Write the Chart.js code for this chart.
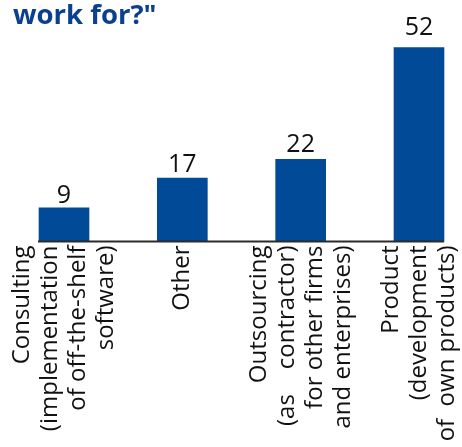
<!DOCTYPE html>
<html>
<head>
<meta charset="utf-8">
<script src="https://cdn.jsdelivr.net/npm/chart.js@4/dist/chart.umd.min.js"></script>
<style>
  html, body { margin: 0; padding: 0; background: #ffffff; }
  #wrap { width: 462px; height: 447px; position: relative; }
</style>
</head>
<body>
<div id="wrap"><canvas id="chart"></canvas></div>
<script>
// Company types (multi-line category labels) and share of answers
const categories = [
  ['Consulting', '(implementation', 'of off-the-shelf', 'software)'],
  ['Other'],
  ['Outsourcing', '(as    contractor)', 'for other firms', 'and enterprises)'],
  ['Product', '(development', 'of  own products)']
];
const responses = [9, 17, 22, 52];
const titleText = 'work for?"';

const BAR_BLUE = '#004a97';
const TEXT_FONT = '"Open Sans", "Noto Sans", sans-serif';

// Axis baseline, value labels and rotated category labels
const annotate = {
  id: 'annotate',
  afterDatasetsDraw(chart) {
    const ctx = chart.ctx;
    const x = chart.scales.x;
    const y = chart.scales.y;
    const bars = chart.getDatasetMeta(0).data;
    const base = y.getPixelForValue(0);

    // baseline spanning the bars
    const first = bars[0], last = bars[bars.length - 1];
    ctx.save();
    ctx.strokeStyle = '#2b2b2b';
    ctx.lineWidth = 2;
    ctx.beginPath();
    ctx.moveTo(first.x - first.width / 2 - 1, base);
    ctx.lineTo(last.x + last.width / 2, base);
    ctx.stroke();

    // values above bars, anchored a little above each bar top
    ctx.fillStyle = '#111111';
    ctx.font = '25px ' + TEXT_FONT;
    ctx.textAlign = 'center';
    ctx.textBaseline = 'alphabetic';
    bars.forEach((bar, i) => {
      const v = responses[i];
      ctx.fillText(String(v), bar.x, y.getPixelForValue(v * 1.05) - 3);
    });

    // category labels, rotated, lines ending at the axis
    const lh = 28;
    ctx.font = '24px ' + TEXT_FONT;
    ctx.textAlign = 'right';
    ctx.textBaseline = 'middle';
    categories.forEach((lines, i) => {
      const cx = x.getPixelForValue(i);
      lines.forEach((line, j) => {
        const lx = cx + (j - (lines.length - 1) / 2) * lh;
        ctx.save();
        ctx.translate(lx, base + 4);
        ctx.rotate(-Math.PI / 2);
        ctx.fillText(line, 0, 0);
        ctx.restore();
      });
    });
    ctx.restore();
  }
};

new Chart(document.getElementById('chart'), {
  type: 'bar',
  data: {
    labels: categories,
    datasets: [{
      data: responses,
      backgroundColor: BAR_BLUE,
      borderWidth: 0,
      barThickness: 50,
      clip: false
    }]
  },
  options: {
    responsive: true,
    maintainAspectRatio: false,
    animation: false,
    layout: { padding: { left: 13, right: 43, top: 0, bottom: 205.5 } },
    plugins: {
      legend: { display: false },
      tooltip: { enabled: false },
      title: {
        display: true,
        text: titleText,
        align: 'start',
        color: '#0b3f8f',
        font: { family: TEXT_FONT, size: 27.5, weight: 'bold', lineHeight: 1.2 },
        padding: { top: 0, bottom: 0 }
      }
    },
    scales: {
      x: {
        type: 'category',
        offset: false,
        display: false
      },
      y: {
        min: 0,
        max: 55.9,
        display: true,
        grid: { display: false },
        border: { display: false },
        ticks: { display: false },
        afterFit(scale) { scale.width = 51; }
      }
    }
  },
  plugins: [annotate]
});
</script>
</body>
</html>
